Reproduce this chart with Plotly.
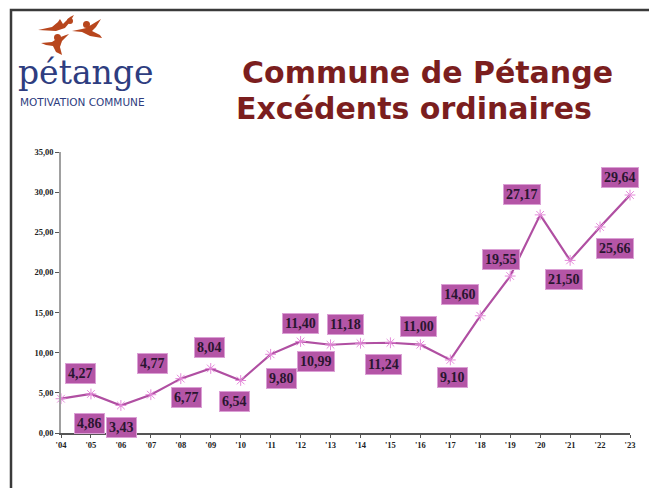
import plotly.graph_objects as go

# ---- data ----
years = list(range(2004, 2024))
year_labels = ["'04", "'05", "'06", "'07", "'08", "'09", "'10", "'11", "'12", "'13",
               "'14", "'15", "'16", "'17", "'18", "'19", "'20", "'21", "'22", "'23"]
excedents = [4.27, 4.86, 3.43, 4.77, 6.77, 8.04, 6.54, 9.80, 11.40, 10.99,
             11.18, 11.24, 11.00, 9.10, 14.60, 19.55, 27.17, 21.50, 25.66, 29.64]

# label offsets (pixels) for each value box
label_dx = [19, -1, 1, 2, 6, -1, -6, 11, 0, -15, -15, -7, -2, 2, -20, -9, -18, -6, 15, -10]
label_dy = [25, -30, -22, 31, -19, 21, -21, -24, 18, -17, 19, -22, 18, -18, 21, 17, 20, -19, -22, 18]

OFF = 8  # page body margin
W, H = 657 - OFF, 488 - OFF
# plot area in screen pixels
SL, SR, ST, SB = 61, 630, 152, 433
L, R, T, B = SL - OFF, SR - OFF, ST - OFF, SB - OFF


def px(X):
    return (X - SL) / (SR - SL)


def py(Y):
    return (SB - Y) / (SB - ST)


fig = go.Figure()
fig.add_trace(go.Scatter(
    x=years, y=excedents, mode="lines+markers",
    line=dict(color="#b04fa2", width=2.2),
    marker=dict(symbol="asterisk-open", size=9, color="#e48ad9",
                line=dict(color="#e48ad9", width=1)),
    hoverinfo="x+y", showlegend=False, cliponaxis=False,
))

annotations = []
for x, v, dx, dy in zip(years, excedents, label_dx, label_dy):
    annotations.append(dict(
        x=x, y=v, xref="x", yref="y", showarrow=False,
        text=f"{v:.2f}".replace(".", ","), xshift=dx, yshift=dy,
        font=dict(family="Liberation Serif", size=14, color="#2a1530", weight="bold"),
        bgcolor="#b455a6", bordercolor="#dba0d5", borderwidth=1, borderpad=2,
    ))

# Title
title_font = dict(family="DejaVu Sans", size=30, color="#7b1e1e", weight="bold")
annotations.append(dict(x=px(240), y=py(72), xref="paper", yref="paper", showarrow=False,
                        xanchor="left", yanchor="middle", text="Commune de Pétange",
                        font=title_font))
annotations.append(dict(x=px(234), y=py(109), xref="paper", yref="paper", showarrow=False,
                        xanchor="left", yanchor="middle", text="Excédents ordinaires",
                        font=title_font))

# Logo text
annotations.append(dict(x=px(17), y=py(73), xref="paper", yref="paper", showarrow=False,
                        xanchor="left", yanchor="middle", text="pétange", borderpad=0,
                        font=dict(family="DejaVu Serif", size=33, color="#2e3d80")))
annotations.append(dict(x=px(19), y=py(102), xref="paper", yref="paper", showarrow=False,
                        xanchor="left", yanchor="middle", text="MOTIVATION COMMUNE", borderpad=0,
                        font=dict(family="DejaVu Sans", size=10.5, color="#2e3d80")))


def path(points):
    s = "M " + " L ".join(f"{px(a):.4f},{py(b):.4f}" for a, b in points) + " Z"
    return s


bird = "#b8461d"
shapes = [
    # frame
    dict(type="path", xref="paper", yref="paper",
         path=f"M {px(11)},{py(520)} L {px(11)},{py(10)} L {px(655)},{py(10)} L {px(655)},{py(520)}",
         line=dict(color="#3a3a3a", width=2.5)),
    # bird 1
    dict(type="path", xref="paper", yref="paper", fillcolor=bird, line=dict(width=0),
         path=path([(38, 30), (52, 27), (58, 22), (60, 19), (63, 24), (70, 17), (74, 15),
                    (70, 22), (65, 28), (56, 31)])),
    dict(type="circle", xref="paper", yref="paper", fillcolor=bird, line=dict(width=0),
         x0=px(67), x1=px(73), y0=py(24), y1=py(18)),
    # bird 2
    dict(type="path", xref="paper", yref="paper", fillcolor=bird, line=dict(width=0),
         path=path([(72, 31), (82, 29), (86, 28), (96, 22), (101, 19), (96, 27), (92, 31),
                    (100, 35), (102, 38), (90, 36), (82, 32)])),
    dict(type="circle", xref="paper", yref="paper", fillcolor=bird, line=dict(width=0),
         x0=px(83), x1=px(90), y0=py(28), y1=py(21)),
    # bird 3
    dict(type="path", xref="paper", yref="paper", fillcolor=bird, line=dict(width=0),
         path=path([(41, 43), (52, 42), (58, 38), (66, 35), (69, 34), (62, 41), (60, 47),
                    (62, 55), (56, 52), (53, 46), (46, 45)])),
    dict(type="circle", xref="paper", yref="paper", fillcolor=bird, line=dict(width=0),
         x0=px(54), x1=px(61), y0=py(41), y1=py(34)),
]

tick_font = dict(family="Liberation Serif", size=8.5, color="#222222", weight="bold")
fig.update_layout(
    width=W, height=H,
    margin=dict(l=L, r=W - R, t=T, b=H - B),
    paper_bgcolor="white", plot_bgcolor="white",
    separators=",.",
    annotations=annotations, shapes=shapes,
    xaxis=dict(range=[2004, 2023], tickvals=years, ticktext=year_labels,
               showgrid=False, zeroline=False, showline=True, linecolor="#555555",
               linewidth=1.5, ticks="outside", ticklen=3, tickcolor="#555555",
               tickfont=tick_font, fixedrange=True),
    yaxis=dict(range=[0, 35], tickvals=[0, 5, 10, 15, 20, 25, 30, 35], tickformat=".2f",
               showgrid=False, zeroline=False, showline=True, linecolor="#a0a0a0",
               linewidth=1.5, ticks="outside", ticklen=4, tickcolor="#555555",
               tickfont=tick_font, fixedrange=True),
)

fig.write_html("out.html")
